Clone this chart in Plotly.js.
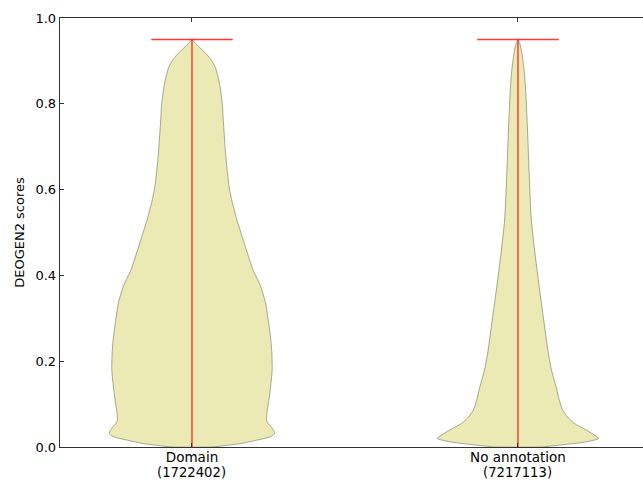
<!DOCTYPE html>
<html>
<head>
<meta charset="utf-8">
<script src="https://cdn.plot.ly/plotly-3.0.1.min.js"></script>
<style>
html,body{margin:0;padding:0;overflow:hidden;background:#fff;}
#chart{width:660px;height:481px;}
</style>
</head>
<body>
<div id="chart"></div>
<script>
// Categories and positions
const categories = ["Domain", "No annotation"];
const counts = ["1722402", "7217113"];
const positions = [1, 2];

// Violin outlines: score levels and half-widths (in x-axis units)
const domainScores = [0.000, 0.003, 0.008, 0.016, 0.024, 0.032, 0.044, 0.055, 0.063, 0.086, 0.109, 0.140, 0.179, 0.219, 0.257, 0.296, 0.335, 0.374, 0.413, 0.452, 0.490, 0.529, 0.569, 0.606, 0.646, 0.685, 0.762, 0.800, 0.840, 0.863, 0.886, 0.902, 0.918, 0.933, 0.950];
const domainHalfWidth = [0.061, 0.098, 0.149, 0.199, 0.241, 0.254, 0.246, 0.233, 0.229, 0.231, 0.236, 0.241, 0.246, 0.245, 0.241, 0.234, 0.226, 0.211, 0.187, 0.170, 0.154, 0.138, 0.124, 0.114, 0.108, 0.103, 0.096, 0.093, 0.086, 0.080, 0.071, 0.059, 0.042, 0.021, 0.000];

const noAnnScores = [0.000, 0.001, 0.006, 0.012, 0.020, 0.028, 0.040, 0.055, 0.070, 0.086, 0.109, 0.140, 0.179, 0.219, 0.296, 0.374, 0.452, 0.529, 0.606, 0.685, 0.762, 0.840, 0.879, 0.918, 0.940, 0.950];
const noAnnHalfWidth = [0.077, 0.086, 0.147, 0.209, 0.248, 0.234, 0.209, 0.173, 0.152, 0.137, 0.127, 0.117, 0.103, 0.093, 0.079, 0.065, 0.052, 0.041, 0.036, 0.032, 0.028, 0.023, 0.019, 0.012, 0.006, 0.000];

// Extrema
const minScores = [0.0, 0.0];
const maxScores = [0.95, 0.95];

const violinScores = [domainScores, noAnnScores];
const violinHalfWidths = [domainHalfWidth, noAnnHalfWidth];

const traces = [];
const barHalf = 0.125;
for (let k = 0; k < categories.length; k++) {
  const ys = violinScores[k], hw = violinHalfWidths[k], p = positions[k];
  const xs = [], yy = [];
  for (let i = 0; i < ys.length; i++) { xs.push(p - hw[i]); yy.push(ys[i]); }
  for (let i = ys.length - 1; i >= 0; i--) { xs.push(p + hw[i]); yy.push(ys[i]); }
  xs.push(xs[0]); yy.push(yy[0]);
  traces.push({
    type: 'scatter', mode: 'lines', x: xs, y: yy, fill: 'toself',
    fillcolor: '#ebe9b4', line: {color: 'rgba(90,90,70,0.5)', width: 1, shape: 'spline', smoothing: 0.6},
    hoverinfo: 'skip', showlegend: false
  });
}
for (let k = 0; k < categories.length; k++) {
  const p = positions[k];
  traces.push({
    type: 'scatter', mode: 'lines', x: [p, p], y: [minScores[k], maxScores[k]],
    line: {color: 'rgba(255,20,20,0.85)', width: 1.4}, showlegend: false, hoverinfo: 'skip'
  });
  traces.push({
    type: 'scatter', mode: 'lines', x: [p - barHalf, p + barHalf], y: [maxScores[k], maxScores[k]],
    line: {color: 'rgba(255,20,20,0.85)', width: 1.4}, showlegend: false, hoverinfo: 'skip'
  });
}

const fnt = {family: 'DejaVu Sans', size: 13.5, color: '#000'};
const cfnt = {family: 'DejaVu Sans', size: 13.2, color: '#000'};
const yfnt = {family: 'DejaVu Sans', size: 13, color: '#000'};

const annotations = counts.map((c, i) => ({
  x: positions[i], xref: 'x', y: 0, yref: 'paper',
  yanchor: 'middle', xanchor: 'center', yshift: -25.5, borderpad: 0,
  text: '(' + c + ')', showarrow: false, font: cfnt
}));

const layout = {
  width: 660, height: 481,
  margin: {l: 60, r: 10, t: 18, b: 34},
  paper_bgcolor: '#fff', plot_bgcolor: '#fff',
  showlegend: false,
  font: fnt,
  annotations: annotations,
  xaxis: {
    range: [0.5951, 2.405], tickvals: positions, ticktext: categories,
    ticks: 'inside', ticklen: 4, tickcolor: '#333', tickwidth: 1,
    showline: true, linecolor: '#333', linewidth: 1.3, mirror: 'ticks',
    showgrid: false, zeroline: false, tickfont: fnt, ticklabelstandoff: -3
  },
  yaxis: {
    range: [0, 1.0], tickvals: [0, 0.2, 0.4, 0.6, 0.8, 1.0],
    ticktext: ['0.0', '0.2', '0.4', '0.6', '0.8', '1.0'],
    ticks: 'inside', ticklen: 4, tickcolor: '#333', tickwidth: 1,
    showline: true, linecolor: '#333', linewidth: 1.3, mirror: 'ticks',
    showgrid: false, zeroline: false, tickfont: yfnt,
    title: {text: 'DEOGEN2 scores', font: yfnt, standoff: 8}
  }
};

Plotly.newPlot('chart', traces, layout, {displayModeBar: false, staticPlot: true});
</script>
</body>
</html>
